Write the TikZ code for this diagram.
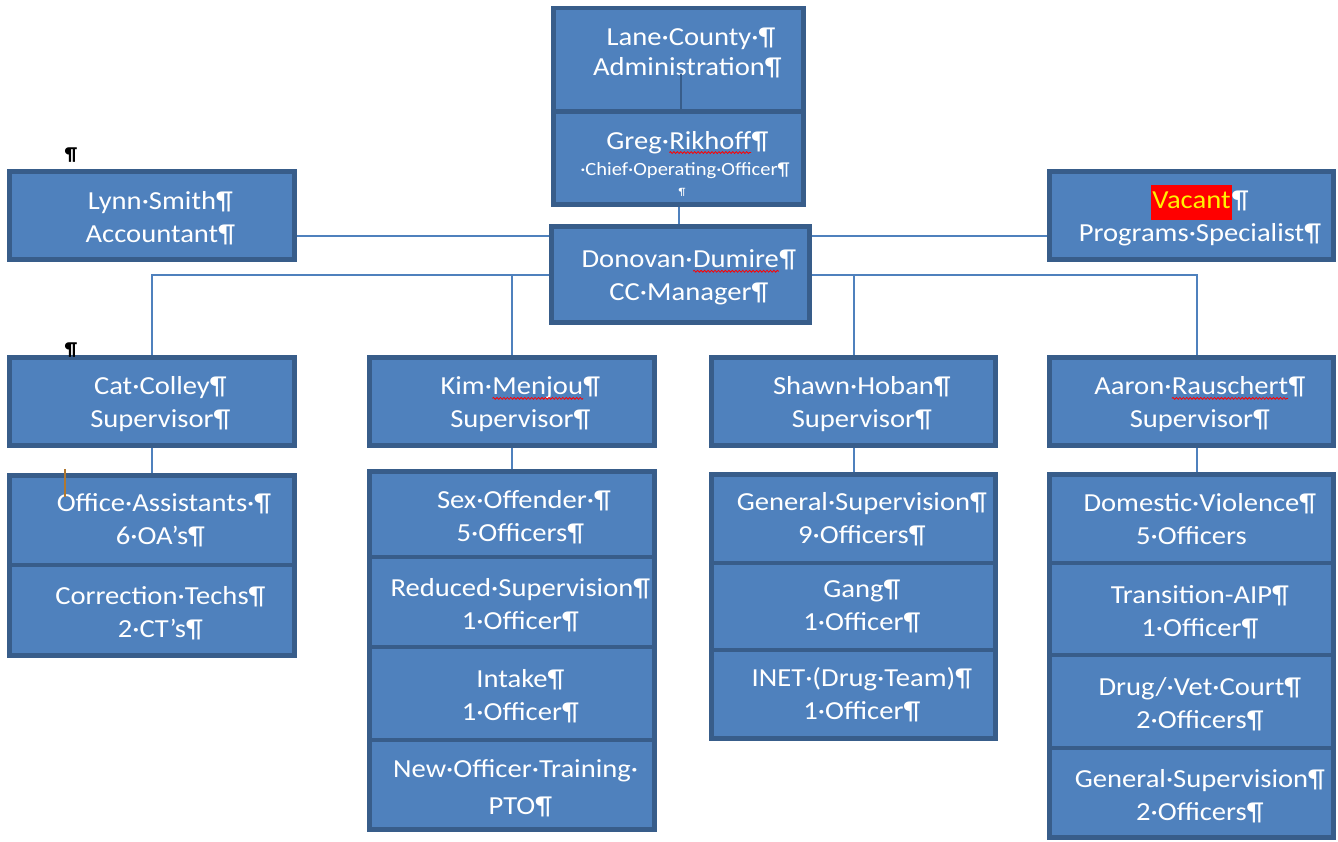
\documentclass[tikz,border=0pt]{standalone}
\usepackage{fontspec}
\setmainfont{Carlito}[FakeStretch=1.1]
\usetikzlibrary{backgrounds,decorations.pathmorphing}
\definecolor{bfill}{HTML}{4F81BD}
\definecolor{bline}{HTML}{385D8A}
\definecolor{cline}{HTML}{4F81BD}
\definecolor{cursorc}{HTML}{B07830}
\newcommand\pxs{0.75pt}
\newcommand\pmk{\rlap{¶}}
\newcommand\dpmk{\rlap{·¶}}
\newcommand\fl{\rule{0pt}{18pt}}
\newcommand\redwave[1]{\tikz[baseline=(w.base),x=1pt,y=1pt]{\node[inner sep=0pt,outer sep=0pt,minimum width=0pt,minimum height=0pt,text=white,draw=none,fill=none,line width=0pt](w){#1};\draw[red,line width=0.6pt,decorate,decoration={snake,amplitude=0.7pt,segment length=2.6pt}]([yshift=-2.6pt]w.base west)--([yshift=-2.6pt]w.base east);}}
\tikzset{
  box/.style={draw=bline, fill=bfill, line width=3.5pt, text=white, align=center,
    inner sep=0pt, outer sep=0pt, font=\fontsize{19.5}{24.75}\selectfont},
  sz/.style 2 args={minimum width=#1*\pxs, minimum height=#2*\pxs},
  txt/.style={text=white, align=center, inner sep=0pt, font=\fontsize{19.5}{22.5}\selectfont},
  conn/.style={draw=cline, line width=1.5pt},
  pmark/.style={inner sep=0pt, text=black, font=\fontsize{14}{14}\selectfont\bfseries}
}
\begin{document}
\begin{tikzpicture}[x=0.75pt,y=-0.75pt]
\useasboundingbox (0,0) rectangle (1338,842);
% top
\node[box, sz={250}{103}] (lane) at (678.5,59.5) {};
\node[txt] (lanetxt) at (679,53) {Lane·County\dpmk\\Administration\pmk};
\node[box, sz={250}{93.5}] (greg) at (678.5,158) {};
\node[txt] (gregtxt) at (679,155) {Greg·\redwave{Rikhoff}\pmk\\[-2.5pt]{\fontsize{14}{16}\selectfont ·Chief·Operating·Officer\pmk}};
\node[inner sep=0pt, text=white, font=\fontsize{8}{8}\selectfont] (gregmark) at (682,192) {¶};
\node[box, sz={285}{88}] (lynn) at (152,215.5) {\fl Lynn·Smith\pmk\\Accountant\pmk};
\node[box, sz={284}{88}] (vacant) at (1191.5,215.5) {{\fboxsep=1pt\colorbox{red}{\strut\textcolor{yellow}{Vacant}}}\pmk\\Programs·Specialist\pmk};
\node[box, sz={258}{96}] (donovan) at (680.5,274.5) {\fl Donovan·\redwave{Dumire}\pmk\\CC·Manager\pmk};
% supervisors
\node[box, sz={285}{88}] (cat) at (152,401.5) {\fl Cat·Colley\pmk\\Supervisor\pmk};
\node[box, sz={285}{88}] (kim) at (512,401.5) {\fl Kim·\redwave{Menjou}\pmk\\Supervisor\pmk};
\node[box, sz={284}{88}] (shawn) at (853.5,401.5) {\fl Shawn·Hoban\pmk\\Supervisor\pmk};
\node[box, sz={284}{88}] (aaron) at (1191.5,401.5) {\fl Aaron·\redwave{Rauschert}\pmk\\Supervisor\pmk};
% Cat units
\node[box, sz={285}{89.5}] (oa) at (152,520.25) {Office·Assistants\dpmk\\6·OA’s\pmk};
\node[box, sz={285}{90.5}] (ct) at (152,610.25) {\fl Correction·Techs\pmk\\2·CT’s\pmk};
% Kim units
\node[box, sz={285}{85.5}] (so) at (512,514.25) {\fl Sex·Offender\dpmk\\5·Officers\pmk};
\node[box, sz={285}{90}] (rs) at (512,602) {\fl Reduced·Supervision\pmk\\1·Officer\pmk};
\node[box, sz={285}{93}] (intake) at (512,693.5) {\fl Intake\pmk\\1·Officer\pmk};
\node[box, sz={285}{89.5}] (newoff) at (512,784.75) {\fl New·Officer·Training\rlap{·}\\[3pt]PTO\pmk};
% Shawn units
\node[box, sz={284}{88.5}] (gs) at (853.5,518.75) {General·Supervision\pmk\\9·Officers\pmk};
\node[box, sz={284}{87}] (gang) at (853.5,606.5) {Gang\pmk\\1·Officer\pmk};
\node[box, sz={284}{88.5}] (inet) at (853.5,694.25) {INET·(Drug·Team)\pmk\\1·Officer\pmk};
% Aaron units
\node[box, sz={284}{88.5}] (dv) at (1191.5,518.75) {Domestic·Violence\pmk\\5·Officers};
\node[box, sz={284}{92}] (tr) at (1191.5,609) {\fl Transition-AIP\pmk\\1·Officer\pmk};
\node[box, sz={284}{93}] (dr) at (1191.5,701.5) {\fl Drug/·Vet·Court\pmk\\2·Officers\pmk};
\node[box, sz={284}{89.5}] (gs2) at (1191.5,792.75) {\fl General·Supervision\pmk\\2·Officers\pmk};
% stray paragraph marks
\node[pmark] (pm1) at (71,155) {¶};
\node[pmark] (pm2) at (71,350) {¶};
\draw[cursorc, line width=1.6pt] (65,469) -- (65,497);
% connectors
\begin{pgfonlayer}{background}
\draw[conn] (greg.center) -- (greg.center |- donovan.center);
\draw[conn] ([yshift=-20.5*\pxs]lynn.center) -- ([yshift=-20.5*\pxs]lynn.center -| vacant.center);
\draw[conn] (cat.center) |- (donovan.center);
\draw[conn] (kim.center) |- (donovan.center);
\draw[conn] (shawn.center) |- (donovan.center);
\draw[conn] ([xshift=5.5*\pxs]aaron.center) |- (donovan.center);
\draw[conn] (cat.center) -- (oa.center);
\draw[conn] (kim.center) -- (so.center);
\draw[conn] (shawn.center) -- (gs.center);
\draw[conn] ([xshift=5.5*\pxs]aaron.center) -- ([xshift=5.5*\pxs]aaron.center |- dv.center);
\end{pgfonlayer}
\draw[draw=bline, line width=1pt] ([xshift=2.5*\pxs]lane.south) -- ++(0,-37);
\end{tikzpicture}
\end{document}
